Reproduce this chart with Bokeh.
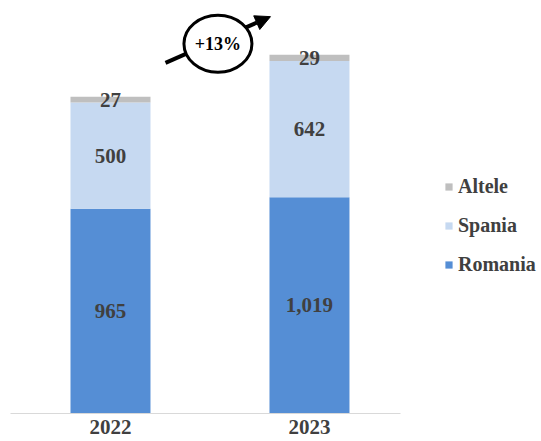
from bokeh.plotting import figure
from bokeh.models import Range1d, FixedTicker, Legend, LegendItem, Arrow, NormalHead, ColumnDataSource
from bokeh.core.properties import value
from bokeh.embed import file_html
from bokeh.resources import INLINE

years = ["2022", "2023"]
romania = [965, 1019]
spania = [500, 642]
altele = [27, 29]

colors = {"Romania": "#558ED5", "Spania": "#C6D9F1", "Altele": "#BFBFBF"}
FONT = "Liberation Serif"
TXT = "#404040"

xs = list(range(len(years)))
totals = [r + s + a for r, s, a in zip(romania, spania, altele)]
growth = round((totals[1] / totals[0] - 1) * 100)

p = figure(width=541, height=441, output_backend="svg", toolbar_location=None,
           x_range=Range1d(-0.5025, 2.166), y_range=Range1d(0, 1946),
           min_border_left=10, min_border_right=0, min_border_top=0, min_border_bottom=28)
p.outline_line_color = None
p.grid.visible = False
p.yaxis.visible = False
p.background_fill_color = "white"

src = ColumnDataSource(dict(x=xs, r0=[0]*2, r1=romania,
                            s0=romania, s1=[r + s for r, s in zip(romania, spania)],
                            a0=[r + s for r, s in zip(romania, spania)], a1=totals))
bw = 0.402
rr = p.vbar(x="x", bottom="r0", top="r1", width=bw, source=src, fill_color=colors["Romania"], line_color=None)
rs = p.vbar(x="x", bottom="s0", top="s1", width=bw, source=src, fill_color=colors["Spania"], line_color=None)
ra = p.vbar(x="x", bottom="a0", top="a1", width=bw, source=src, fill_color=colors["Altele"], line_color=None)

# value labels
lab_x, lab_y, lab_t = [], [], []
for i in xs:
    segs = [(0, romania[i]), (romania[i], romania[i] + spania[i]), (romania[i] + spania[i], totals[i])]
    vals = [romania[i], spania[i], altele[i]]
    for (b, t), v in zip(segs, vals):
        lab_x.append(i); lab_y.append((b + t) / 2); lab_t.append(f"{v:,}")
p.text(x=lab_x, y=lab_y, text=lab_t, text_align="center", text_baseline="middle",
       text_font=value(FONT), text_font_style="bold", text_font_size="21px", text_color=TXT)

# growth annotation
arrow = Arrow(end=NormalHead(size=15, fill_color="black", line_color="black"),
              x_start=0.2764, y_start=1652, x_end=0.804, y_end=1870,
              line_width=4, line_color="black", level="underlay")
p.add_layout(arrow)
p.ellipse(x=[0.54], y=[1742], width=68, height=57, width_units="screen", height_units="screen",
          fill_color="white", line_color="black", line_width=3)
p.text(x=[0.54], y=[1742], text=[f"+{growth}%"], text_align="center", text_baseline="middle",
       text_font=value(FONT), text_font_style="bold", text_font_size="18px", text_color="black")

# axis
p.xaxis.ticker = FixedTicker(ticks=xs)
p.xaxis.bounds = (-0.5025, 1.457)
p.xaxis.major_label_overrides = {i: y for i, y in zip(xs, years)}
p.xaxis.major_tick_line_color = None
p.xaxis.minor_tick_line_color = None
p.xaxis.major_tick_out = 0
p.xaxis.axis_line_color = "#D9D9D9"
p.xaxis.major_label_standoff = 6
p.xaxis.major_label_text_font = FONT
p.xaxis.major_label_text_font_style = "bold"
p.xaxis.major_label_text_font_size = "21px"
p.xaxis.major_label_text_color = TXT

legend = Legend(items=[LegendItem(label="Altele", renderers=[ra]),
                       LegendItem(label="Spania", renderers=[rs]),
                       LegendItem(label="Romania", renderers=[rr])],
                location=(434, 137), border_line_color=None, background_fill_alpha=0,
                padding=0, margin=0, spacing=16, glyph_width=9, glyph_height=9,
                label_standoff=5, label_text_font=FONT, label_text_font_style="bold",
                label_text_font_size="20px", label_text_color=TXT, label_height=20)
p.add_layout(legend, "center")

open("out.html", "w").write(file_html(p, INLINE))
